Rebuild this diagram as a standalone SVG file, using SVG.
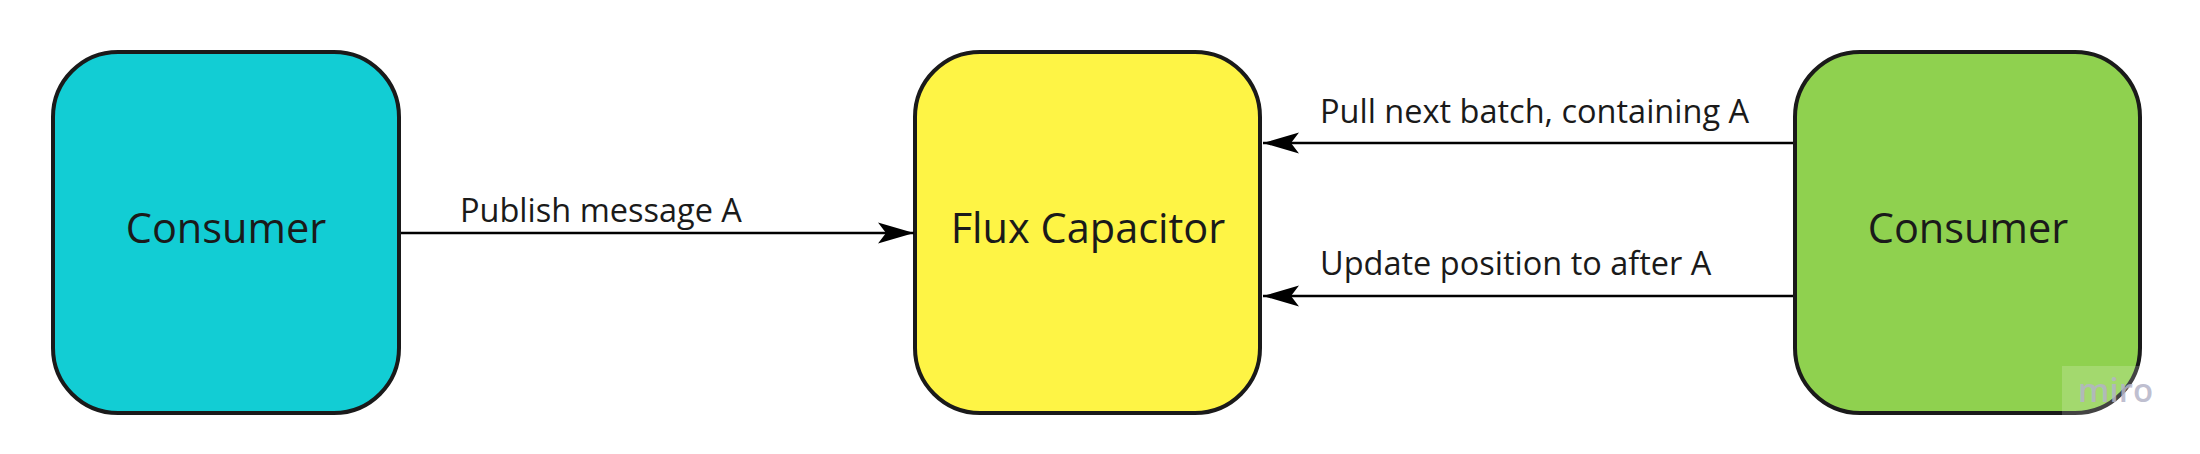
<svg xmlns="http://www.w3.org/2000/svg" width="2200" height="454" viewBox="0 0 2200 454">
<style>
.node{stroke:#1a1a1a;stroke-width:4}
.ntext{font-family:"Open Sans","Noto Sans",sans-serif;font-size:41.5px;fill:#1a1a1a;text-anchor:middle}
.ltext{font-family:"Open Sans","Noto Sans",sans-serif;font-size:32.5px;fill:#1a1a1a}
.edge{stroke:#000;stroke-width:2.4;fill:none;marker-end:url(#arr)}
</style>
<defs>
<marker id="arr" markerUnits="userSpaceOnUse" markerWidth="40" markerHeight="24" viewBox="-38 -12 40 24" refX="0" refY="0" orient="auto">
<path d="M0,0 L-36,-10.5 L-28,0 L-36,10.5 Z" fill="#000"/>
</marker>
</defs>
<rect width="2200" height="454" fill="#fff"/>
<g id="consumer-left">
<rect class="node" x="53" y="52" width="346" height="361" rx="65" fill="#12CDD4"/>
<text class="ntext" x="226" y="243">Consumer</text>
</g>
<g id="flux-capacitor">
<rect class="node" x="915" y="52" width="345" height="361" rx="65" fill="#FEF445"/>
<text class="ntext" x="1088" y="243">Flux Capacitor</text>
</g>
<g id="consumer-right">
<rect class="node" x="1795" y="52" width="345" height="361" rx="65" fill="#8FD14F"/>
<text class="ntext" x="1968" y="243">Consumer</text>
</g>
<g id="connectors">
<path class="edge" d="M401,233 L914,233"/>
<text class="ltext" x="460" y="222">Publish message A</text>
<path class="edge" d="M1793,143 L1263,143"/>
<text class="ltext" x="1320" y="123">Pull next batch, containing A</text>
<path class="edge" d="M1793,296 L1263,296"/>
<text class="ltext" x="1320" y="275">Update position to after A</text>
</g>
<g id="watermark">
<rect x="2062" y="366" width="86" height="52" fill="#fff" fill-opacity="0.18"/>
<text x="2078" y="402" font-family="'Open Sans',sans-serif" font-size="33" font-weight="600" fill="#b4b4c8" fill-opacity="0.85">miro</text>
</g>
</svg>
